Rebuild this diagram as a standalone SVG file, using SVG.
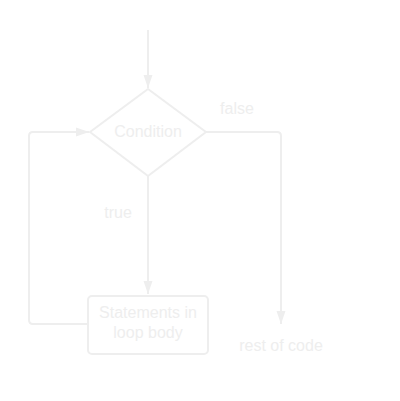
<svg xmlns="http://www.w3.org/2000/svg" width="400" height="401" viewBox="0 0 400 401">
<style>
.ln{fill:none;stroke:#eeeeee;stroke-width:2;stroke-linejoin:round}
.t{font-family:"Liberation Sans",Arial,sans-serif;font-size:16px;fill:#eeeeee;text-anchor:middle}
</style>
<defs>
<marker id="ah" markerWidth="14" markerHeight="10" refX="13" refY="5" orient="auto" markerUnits="userSpaceOnUse">
<path d="M0,0.5 L13,5 L0,9.5 Z" fill="#eeeeee"/>
</marker>
</defs>
<rect width="400" height="401" fill="#ffffff"/>
<g id="connectors">
<path class="ln" d="M148,30 L148,88" marker-end="url(#ah)"/>
<path class="ln" d="M148,176 L148,294" marker-end="url(#ah)"/>
<path class="ln" d="M206,132 L277,132 Q281,132 281,136 L281,324" marker-end="url(#ah)"/>
<path class="ln" d="M88,324 L33,324 Q29,324 29,320 L29,136 Q29,132 33,132 L89,132" marker-end="url(#ah)"/>
<text class="t" x="237" y="114">false</text>
<text class="t" x="118" y="218">true</text>
</g>
<g id="condition">
<path class="ln" d="M148,89 L206,132 L148,176 L90,132 Z"/>
<text class="t" x="148" y="137">Condition</text>
</g>
<g id="body">
<rect class="ln" x="88" y="296" width="120" height="58" rx="4"/>
<text class="t" x="148" y="318">Statements in</text>
<text class="t" x="148" y="338">loop body</text>
</g>
<g id="rest">
<text class="t" x="281" y="351">rest of code</text>
</g>
</svg>
